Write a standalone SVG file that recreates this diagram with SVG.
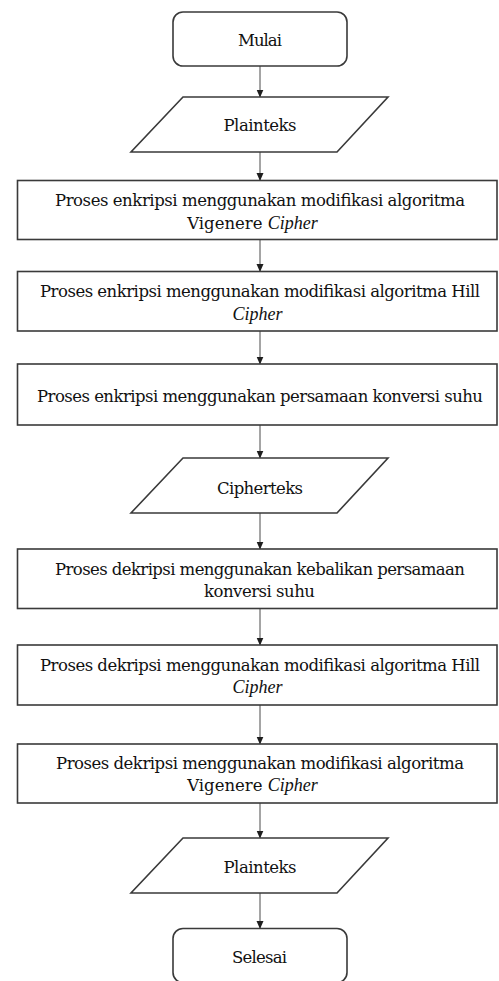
<svg xmlns="http://www.w3.org/2000/svg" width="499" height="981" viewBox="0 0 499 981">
<style>
.box{fill:#fff;stroke:#3a3a3a;stroke-width:1.6}
.lbl{font-family:"DejaVu Serif","Liberation Serif",serif;font-size:16.5px;fill:#111;text-anchor:middle}
.it{font-family:"Liberation Serif","DejaVu Serif",serif;font-style:italic;font-size:18px}
.conn{stroke:#4a4a4a;stroke-width:1;fill:none;marker-end:url(#ah)}
</style>
<defs>
<marker id="ah" markerUnits="userSpaceOnUse" markerWidth="8" markerHeight="9" refX="7.5" refY="3.5" orient="auto">
<path d="M0,0 L8,3.5 L0,7 Z" fill="#1e1e1e"/>
</marker>
</defs>
<rect width="499" height="981" fill="#fff"/>
<g id="connectors">
<line class="conn" x1="260" y1="66" x2="260" y2="97"/>
<line class="conn" x1="260" y1="152" x2="260" y2="180.5"/>
<line class="conn" x1="260" y1="239.5" x2="260" y2="271.5"/>
<line class="conn" x1="260" y1="331" x2="260" y2="364"/>
<line class="conn" x1="260" y1="425" x2="260" y2="458"/>
<line class="conn" x1="260" y1="513" x2="260" y2="549"/>
<line class="conn" x1="260" y1="608.5" x2="260" y2="645"/>
<line class="conn" x1="260" y1="705" x2="260" y2="744"/>
<line class="conn" x1="260" y1="803" x2="260" y2="838"/>
<line class="conn" x1="260" y1="893" x2="260" y2="928.5"/>
</g>
<g id="mulai">
<rect class="box" x="173" y="12" width="174" height="54" rx="10"/>
<text class="lbl" x="260" y="46" textLength="44" lengthAdjust="spacing">Mulai</text>
</g>
<g id="plainteks1">
<polygon class="box" points="183,97 388,97 337,152 131,152"/>
<text class="lbl" x="260" y="131" textLength="73" lengthAdjust="spacing">Plainteks</text>
</g>
<g id="enkripsi-vigenere">
<rect class="box" x="17.5" y="180.5" width="479.5" height="59"/>
<text class="lbl" x="260" y="205.5" textLength="410" lengthAdjust="spacing">Proses enkripsi menggunakan modifikasi algoritma</text>
<text class="lbl" x="252.5" y="228.5">Vigenere <tspan class="it">Cipher</tspan></text>
</g>
<g id="enkripsi-hill">
<rect class="box" x="17.5" y="271.5" width="479.5" height="59.5"/>
<text class="lbl" x="260" y="297" textLength="440" lengthAdjust="spacing">Proses enkripsi menggunakan modifikasi algoritma Hill</text>
<text class="lbl it" x="257.5" y="319.5">Cipher</text>
</g>
<g id="enkripsi-suhu">
<rect class="box" x="17.5" y="364" width="479.5" height="61"/>
<text class="lbl" x="260" y="402" textLength="446" lengthAdjust="spacing">Proses enkripsi menggunakan persamaan konversi suhu</text>
</g>
<g id="cipherteks">
<polygon class="box" points="183,458 388,458 337,513 131,513"/>
<text class="lbl" x="260" y="494" textLength="86" lengthAdjust="spacing">Cipherteks</text>
</g>
<g id="dekripsi-suhu">
<rect class="box" x="17.5" y="549" width="479.5" height="59.5"/>
<text class="lbl" x="260" y="574.5" textLength="410" lengthAdjust="spacing">Proses dekripsi menggunakan kebalikan persamaan</text>
<text class="lbl" x="259.5" y="596.5" textLength="111" lengthAdjust="spacing">konversi suhu</text>
</g>
<g id="dekripsi-hill">
<rect class="box" x="17.5" y="645" width="479.5" height="60"/>
<text class="lbl" x="260" y="670.5" textLength="440" lengthAdjust="spacing">Proses dekripsi menggunakan modifikasi algoritma Hill</text>
<text class="lbl it" x="257.5" y="693">Cipher</text>
</g>
<g id="dekripsi-vigenere">
<rect class="box" x="17.5" y="744" width="479.5" height="59"/>
<text class="lbl" x="260" y="768.5" textLength="408" lengthAdjust="spacing">Proses dekripsi menggunakan modifikasi algoritma</text>
<text class="lbl" x="252.5" y="790.5">Vigenere <tspan class="it">Cipher</tspan></text>
</g>
<g id="plainteks2">
<polygon class="box" points="183,838 388,838 337,893 131,893"/>
<text class="lbl" x="260" y="872.5" textLength="73" lengthAdjust="spacing">Plainteks</text>
</g>
<g id="selesai">
<rect class="box" x="173" y="928.5" width="174" height="54" rx="10"/>
<text class="lbl" x="259.5" y="962.5" textLength="55" lengthAdjust="spacing">Selesai</text>
</g>
</svg>
